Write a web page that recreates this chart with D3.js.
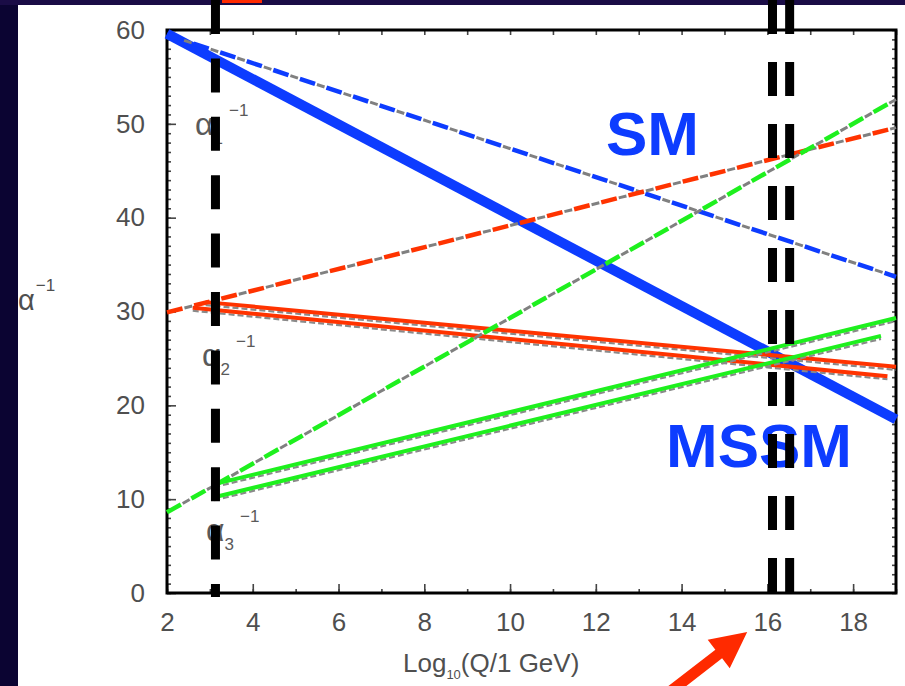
<!DOCTYPE html>
<html><head><meta charset="utf-8">
<script src="https://cdn.jsdelivr.net/npm/d3@7"></script>
<style>html,body{margin:0;padding:0;background:#0b0432;overflow:hidden}</style>
</head><body>
<svg id="c" width="905" height="686"></svg>
<script>
// ---- data ----
const xTicks = [2, 4, 6, 8, 10, 12, 14, 16, 18];
const yTicks = [0, 10, 20, 30, 40, 50, 60];
const xMinor = d3.range(2, 20, 1);
const yMinor = d3.range(0, 61, 1);
// Standard Model running (dashed)
const smAlpha1 = [[2, 59.5], [19, 33.7]];
const smAlpha2 = [[2, 29.9], [19, 49.6]];
const smAlpha3 = [[2, 8.6], [19, 52.6]];
// MSSM running (solid)
const mssmAlpha1 = [[2, 59.6], [19, 18.5]];
const mssmAlpha2a = [[2.9, 31.0], [19, 24.1]];
const mssmAlpha2b = [[2.6, 30.4], [18.8, 23.1]];
const mssmAlpha3a = [[3.1, 11.6], [19, 29.3]];
const mssmAlpha3b = [[3.1, 10.2], [18.65, 27.4]];
// thresholds (vertical black dashed marks)
const thresholdX = [3.13, 16.12, 16.52];

const BLUE = "#0d3cff", RED = "#ff3300", GREEN = "#1ef01e";

const svg = d3.select("#c");
svg.append("rect").attr("width", 905).attr("height", 686).attr("fill", "#0b0432");
svg.append("rect").attr("width", 905).attr("height", 5).attr("fill", "#1a0c46");
svg.append("rect").attr("x", 18).attr("y", 5).attr("width", 887).attr("height", 681).attr("fill", "#ffffff");
svg.append("rect").attr("x", 222).attr("y", 0).attr("width", 40).attr("height", 3).attr("fill", "#ff2a00");

const x = d3.scaleLinear().domain([2, 19]).range([167, 896]);
const y = d3.scaleLinear().domain([0, 60]).range([593, 30]);
const line = d3.line().x(d => x(d[0])).y(d => y(d[1]));

const FONT = "'Liberation Sans', Arial, Helvetica, sans-serif";

function styleAxis(g) {
  g.select(".domain").remove();
  g.selectAll(".tick line").attr("stroke", "#444").attr("stroke-width", 1.6);
  g.selectAll(".tick text").attr("fill", "#4f4f4f").style("font-family", FONT).style("font-size", "26px");
}

// minor ticks
svg.append("g").attr("transform", `translate(${x(2)},0)`)
  .call(d3.axisLeft(y).tickValues(yMinor).tickSizeInner(-4).tickSizeOuter(0).tickFormat(""))
  .call(styleAxis);
svg.append("g").attr("transform", `translate(${x(19)},0)`)
  .call(d3.axisRight(y).tickValues(yMinor).tickSizeInner(-4).tickSizeOuter(0).tickFormat(""))
  .call(styleAxis);
svg.append("g").attr("transform", `translate(0,${y(60)})`)
  .call(d3.axisTop(x).tickValues(xMinor).tickSizeInner(-5).tickSizeOuter(0).tickFormat(""))
  .call(styleAxis);
svg.append("g").attr("transform", `translate(0,${y(0)})`)
  .call(d3.axisBottom(x).tickValues(xMinor).tickSizeInner(-4).tickSizeOuter(0).tickFormat(""))
  .call(styleAxis);
// major ticks + labels
svg.append("g").attr("transform", `translate(${x(2)},0)`)
  .call(d3.axisLeft(y).tickValues(yTicks).tickSizeInner(-9).tickSizeOuter(0).tickPadding(22))
  .call(styleAxis);
svg.append("g").attr("transform", `translate(0,${y(0)})`)
  .call(d3.axisBottom(x).tickValues(xTicks).tickSizeInner(-9).tickSizeOuter(0).tickPadding(20))
  .call(styleAxis);

// frame
svg.append("rect").attr("x", x(2)).attr("y", y(60))
  .attr("width", x(19) - x(2)).attr("height", y(0) - y(60))
  .attr("fill", "none").attr("stroke", "#000").attr("stroke-width", 3);

// axis titles
const xt = svg.append("text").attr("x", 403).attr("y", 672)
  .attr("fill", "#4f4f4f").style("font-family", FONT).style("font-size", "26px");
xt.append("tspan").text("Log");
xt.append("tspan").attr("dy", 7).style("font-size", "13px").text("10");
xt.append("tspan").attr("dy", -7).text("(Q/1 GeV)");

const yt = svg.append("text").attr("x", 18).attr("y", 310)
  .attr("fill", "#4f4f4f").style("font-family", FONT).style("font-size", "29px");
yt.append("tspan").text("α");
yt.append("tspan").attr("dy", -19).attr("dx", 1).style("font-size", "17px").text("−1");

// in-plot coupling labels
function alphaLabel(px, py, sub) {
  const t = svg.append("text").attr("x", px).attr("y", py)
    .attr("fill", "#5a5a5a").style("font-family", FONT).style("font-size", "32px");
  t.append("tspan").text("α");
  t.append("tspan").attr("dy", 9).style("font-size", "17px").text(sub);
  t.append("tspan").attr("dy", -28).attr("dx", 6).style("font-size", "17px").text("−1");
}
alphaLabel(195, 135, "1");
alphaLabel(202, 366, "2");
alphaLabel(206, 541, "3");

// MSSM thick blue
svg.append("path").datum(mssmAlpha1).attr("d", line)
  .attr("fill", "none").attr("stroke", BLUE).attr("stroke-width", 10);

// MSSM thin lines with gray shadow
[[mssmAlpha2a, RED], [mssmAlpha2b, RED], [mssmAlpha3a, GREEN], [mssmAlpha3b, GREEN]].forEach(([d, c]) => {
  svg.append("path").datum(d).attr("d", line).attr("transform", "translate(0,3)")
    .attr("fill", "none").attr("stroke", "#8a8a8a").attr("stroke-width", 2.2)
    .attr("stroke-dasharray", "6 3");
  svg.append("path").datum(d).attr("d", line)
    .attr("fill", "none").attr("stroke", c).attr("stroke-width", 4);
});

// SM dashed lines (colored dashes alternating with gray)
[[smAlpha1, BLUE], [smAlpha2, RED], [smAlpha3, GREEN]].forEach(([d, c]) => {
  svg.append("path").datum(d).attr("d", line)
    .attr("fill", "none").attr("stroke", "#808080").attr("stroke-width", 3)
    .attr("stroke-dasharray", "8 20").attr("stroke-dashoffset", 10);
  svg.append("path").datum(d).attr("d", line)
    .attr("fill", "none").attr("stroke", c).attr("stroke-width", 4.5)
    .attr("stroke-dasharray", "16 12");
});

// SM / MSSM labels
svg.append("text").attr("x", 606).attr("y", 155).text("SM")
  .attr("fill", BLUE).style("font-family", FONT).style("font-weight", "bold").style("font-size", "62px");
svg.append("text").attr("x", 666).attr("y", 467).text("MSSM")
  .attr("fill", BLUE).style("font-family", FONT).style("font-weight", "bold").style("font-size", "62px");

// vertical black dashed threshold marks
thresholdX.forEach((v, i) => {
  svg.append("line").attr("x1", x(v)).attr("x2", x(v)).attr("y1", 0).attr("y2", i === 0 ? 597 : 594)
    .attr("stroke", "#000").attr("stroke-width", 9)
    .attr("stroke-dasharray", i === 0 ? "34 24.4" : "34 28");
});

// red arrow pointing at the unification scale
const tip = [x(15.53), 632];
const ang = Math.atan2(-58, 75);
const ux = Math.cos(ang), uy = Math.sin(ang);
const nx = -uy, ny = ux;
const headLen = 36, headHalf = 18, shaftHalf = 5.5, shaftLen = 110;
const bx = tip[0] - ux * headLen, by = tip[1] - uy * headLen;
const sx = tip[0] - ux * shaftLen, sy = tip[1] - uy * shaftLen;
const arrowPts = [
  [sx + nx * shaftHalf, sy + ny * shaftHalf],
  [bx + nx * shaftHalf, by + ny * shaftHalf],
  [bx + nx * headHalf, by + ny * headHalf],
  tip,
  [bx - nx * headHalf, by - ny * headHalf],
  [bx - nx * shaftHalf, by - ny * shaftHalf],
  [sx - nx * shaftHalf, sy - ny * shaftHalf]
];
svg.append("path").attr("d", "M" + arrowPts.map(p => p.join(",")).join("L") + "Z").attr("fill", "#ff2a00");
</script>
</body></html>
